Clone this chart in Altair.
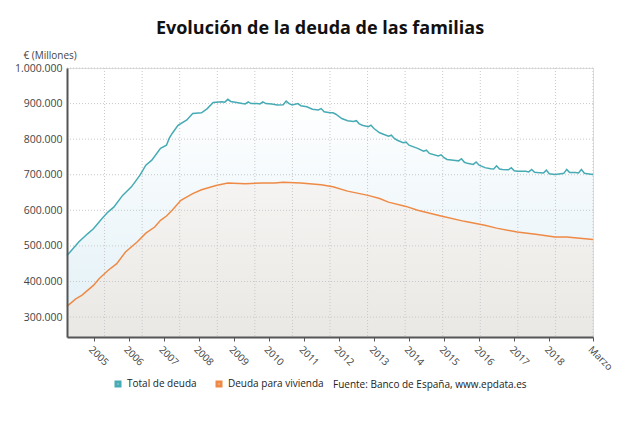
import altair as alt
import pandas as pd

# ---------------- data (millions of euros) ----------------
total_dates = [
    "2004-03", "2004-06", "2004-07", "2004-10", "2004-12", "2005-03", "2005-05", "2005-07",
    "2005-10", "2006-01", "2006-04", "2006-06", "2006-08", "2006-11", "2007-01", "2007-02",
    "2007-03", "2007-05", "2007-08", "2007-10", "2008-01", "2008-03", "2008-05", "2008-08",
    "2008-09", "2008-10", "2008-11", "2009-01", "2009-03", "2009-04", "2009-05", "2009-06",
    "2009-08", "2009-09", "2009-10", "2009-11", "2010-01", "2010-03", "2010-05", "2010-06",
    "2010-07", "2010-08", "2010-10", "2010-11", "2011-01", "2011-03", "2011-05", "2011-06",
    "2011-07", "2011-09", "2011-10", "2011-11", "2012-01", "2012-03", "2012-05", "2012-06",
    "2012-07", "2012-08", "2012-10", "2012-11", "2012-12", "2013-02", "2013-05", "2013-06",
    "2013-07", "2013-08", "2013-10", "2013-11", "2013-12", "2014-03", "2014-05", "2014-06",
    "2014-07", "2014-10", "2014-11", "2014-12", "2015-01", "2015-04", "2015-05", "2015-06",
    "2015-07", "2015-08", "2015-10", "2015-11", "2015-12", "2016-02", "2016-04", "2016-05",
    "2016-06", "2016-07", "2016-08", "2016-10", "2016-11", "2016-12", "2017-01", "2017-04",
    "2017-05", "2017-06", "2017-07", "2017-08", "2017-10", "2017-11", "2017-12", "2018-02",
    "2018-04", "2018-05", "2018-06", "2018-07", "2018-09", "2018-10", "2018-11", "2018-12",
    "2019-01", "2019-03",
]
total_values = [
    473000, 501000, 511000, 534000, 548000, 577000, 595000, 609000,
    642000, 666000, 699000, 727000, 741000, 774000, 783000, 802000,
    816000, 839000, 854000, 872000, 874000, 886000, 903000, 905000,
    904000, 912000, 906000, 903000, 900000, 899000, 905000, 900000,
    900000, 899000, 905000, 900000, 899000, 896000, 897000, 907000,
    900000, 896000, 900000, 894000, 891000, 884000, 882000, 886000,
    877000, 874000, 874000, 870000, 858000, 852000, 850000, 852000,
    843000, 839000, 835000, 839000, 830000, 818000, 808000, 811000,
    802000, 797000, 790000, 792000, 783000, 774000, 766000, 769000,
    760000, 753000, 756000, 748000, 743000, 740000, 739000, 745000,
    735000, 732000, 729000, 736000, 727000, 720000, 717000, 716000,
    725000, 716000, 715000, 714000, 720000, 711000, 710000, 710000,
    708000, 715000, 707000, 706000, 705000, 713000, 703000, 701000,
    703000, 704000, 715000, 706000, 706000, 705000, 715000, 704000,
    703000, 701000,
]

viv_dates = [
    "2004-03", "2004-06", "2004-08", "2004-12", "2005-02", "2005-05", "2005-08", "2005-11",
    "2006-03", "2006-06", "2006-09", "2006-11", "2007-01", "2007-03", "2007-06", "2007-10",
    "2008-01", "2008-06", "2008-10", "2009-04", "2009-10", "2010-02", "2010-05", "2010-11",
    "2011-06", "2011-10", "2012-03", "2012-10", "2013-02", "2013-05", "2013-11", "2014-03",
    "2014-11", "2015-07", "2016-02", "2016-06", "2017-01", "2017-08", "2018-02", "2018-06",
    "2019-03",
]
viv_values = [
    330000, 351000, 361000, 389000, 408000, 431000, 450000, 483000,
    511000, 536000, 553000, 572000, 584000, 600000, 628000, 647000,
    658000, 670000, 677000, 675000, 677000, 677000, 679000, 677000,
    672000, 666000, 654000, 642000, 633000, 623000, 611000, 600000,
    584000, 569000, 558000, 550000, 539000, 532000, 525000, 525000,
    518000,
]

series_names = ["Total de deuda", "Deuda para vivienda"]
series_colors = ["#46abb4", "#ee8a45"]
y_ticks = [300000, 400000, 500000, 600000, 700000, 800000, 900000, 1000000]
y_min = 244000
y_max = 1000000
x_tick_years = list(range(2005, 2019))
last_label = "Marzo"
title_text = "Evolución de la deuda de las familias"
unit_text = "€ (Millones)"
source_text = "Fuente: Banco de España, www.epdata.es"
FONT = "Open Sans"


def month_end(s):
    return pd.to_datetime(s) + pd.offsets.MonthEnd(0)


total = pd.DataFrame({"fecha": month_end(total_dates), "valor": total_values,
                      "serie": series_names[0]})
viv = pd.DataFrame({"fecha": month_end(viv_dates), "valor": viv_values,
                    "serie": series_names[1]})
both = pd.concat([total, viv], ignore_index=True)

start = total["fecha"].min()
end = total["fecha"].max()
vgrid = pd.DataFrame({"fecha": pd.date_range(start, end, periods=15)[1:]})
hgrid = pd.DataFrame({"valor": y_ticks})
src = pd.DataFrame({"t": [source_text]})

x_domain = [alt.DateTime(year=start.year, month=start.month, date=start.day),
            alt.DateTime(year=end.year, month=end.month, date=end.day)]
x_scale = alt.Scale(domain=x_domain)
y_scale = alt.Scale(domain=[y_min, y_max], nice=False, zero=False)

x_values = [alt.DateTime(year=y, month=1, date=1) for y in x_tick_years] + [x_domain[1]]

x_axis = alt.Axis(
    values=x_values,
    labelExpr=f"month(datum.value) == 2 ? '{last_label}' : timeFormat(datum.value, '%Y')",
    labelAngle=45, labelFontSize=10, labelFont=FONT, labelColor="#444",
    tickColor="#555", tickSize=4, domainColor="#555", domainWidth=2,
    grid=False, title=None, labelPadding=3, labelOverlap=False, labelBound=False,
    labelFlush=False, zindex=2,
)
y_axis = alt.Axis(
    values=y_ticks,
    labelExpr="replace(format(datum.value, ',d'), regexp(',', 'g'), '.')",
    grid=False, ticks=False, domainColor="#555", domainWidth=2,
    labelFontSize=10.5, labelFont=FONT, labelColor="#444", labelPadding=5,
    labelOverlap=False, labelFlush=False, labelBound=False, zindex=2,
    title=unit_text, titleAngle=0, titleX=-44, titleY=-8, titleAlign="left",
    titleBaseline="bottom", titleFontWeight="normal", titleFontSize=10,
    titleFont=FONT, titleColor="#444",
)

x_enc = alt.X("fecha:T", scale=x_scale, axis=x_axis)
y_enc = alt.Y("valor:Q", scale=y_scale, axis=y_axis)

area_total = alt.Chart(total).mark_area(
    color=alt.Gradient(gradient="linear",
                       stops=[alt.GradientStop(color="#ffffff", offset=0),
                              alt.GradientStop(color="#e1f0f6", offset=1)],
                       x1=0, x2=0, y1=0, y2=1)
).encode(x=x_enc, y=y_enc, y2=alt.datum(y_min))

area_viv = alt.Chart(viv).mark_area(
    color=alt.Gradient(gradient="linear",
                       stops=[alt.GradientStop(color="#f5f4f2", offset=0),
                              alt.GradientStop(color="#eae8e4", offset=1)],
                       x1=0, x2=0, y1=0, y2=1)
).encode(x=x_enc, y=y_enc, y2=alt.datum(y_min))

h_rules = alt.Chart(hgrid).mark_rule(color="#c8c8cc", strokeDash=[1, 2], strokeWidth=1).encode(
    y=y_enc)
v_rules = alt.Chart(vgrid).mark_rule(color="#c8c8cc", strokeDash=[1, 2], strokeWidth=1).encode(
    x=x_enc)

lines = alt.Chart(both).mark_line(strokeWidth=1.5).encode(
    x=x_enc, y=y_enc,
    color=alt.Color(
        "serie:N",
        scale=alt.Scale(domain=series_names, range=series_colors),
        legend=alt.Legend(
            title=None, orient="none", legendX=46, legendY=311, direction="horizontal",
            symbolType="square", symbolSize=16, symbolStrokeWidth=3,
            labelFont=FONT, labelFontSize=10, labelColor="#222", columnPadding=14,
            labelOffset=4, gridAlign="none",
        ),
    ),
)

source = alt.Chart(src).mark_text(
    align="left", baseline="middle", font=FONT, fontSize=10, color="#222"
).encode(x=alt.value(266), y=alt.value(317), text="t:N")

chart = alt.layer(area_total, area_viv, h_rules, v_rules, lines, source).properties(
    width=526, height=269,
    autosize=alt.AutoSizeParams(type="none"),
    padding={"left": 59, "top": 60, "right": 19, "bottom": 86},
    title=alt.TitleParams(title_text, font=FONT, fontSize=18, fontWeight="bold",
                          color="#111", anchor="middle", dx=-10, offset=12),
).configure_view(stroke=None).configure(background="white").configure_axis(
    labelOverlap=False, labelFlush=False, labelBound=False
)

chart.save("out.html", embed_options={"renderer": "svg", "actions": False})
